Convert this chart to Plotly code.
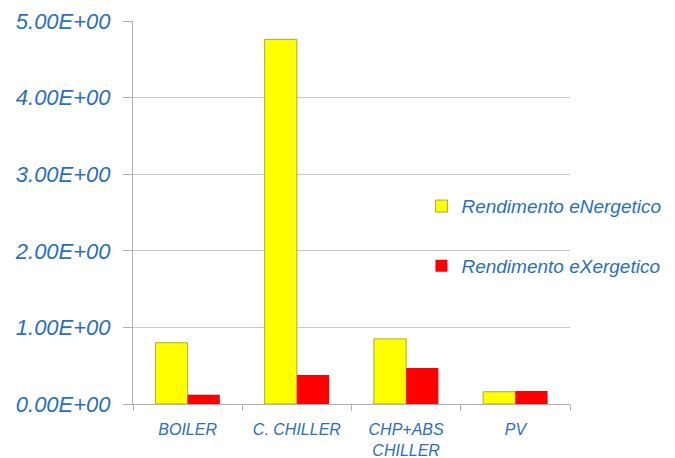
import plotly.graph_objects as go

categories = ["BOILER", "C. CHILLER", "CHP+ABS<br>CHILLER", "PV"]
energetico = [0.80, 4.76, 0.85, 0.16]
exergetico = [0.12, 0.38, 0.47, 0.17]
ytick_vals = [0, 1, 2, 3, 4, 5]
ytick_text = ["0.00E+00", "1.00E+00", "2.00E+00", "3.00E+00", "4.00E+00", "5.00E+00"]

blue = "#2b6fb8"
fnt = "Liberation Sans, Arial, sans-serif"

fig = go.Figure()
fig.add_trace(go.Bar(x=categories, y=energetico, name="<i>Rendimento eNergetico</i>",
                     marker=dict(color="#ffff00", line=dict(color="#a9a93a", width=1)),
                     legendgroup="a"))
fig.add_trace(go.Bar(x=categories, y=exergetico, name="<i>Rendimento eXergetico</i>",
                     marker=dict(color="#ff0000", line=dict(color="#ff0000", width=0)),
                     legendgroup="b"))

fig.update_layout(
    width=667, height=450,
    margin=dict(l=125, r=105, t=13, b=54, autoexpand=False),
    paper_bgcolor="white", plot_bgcolor="white",
    barmode="group", bargap=0.41, bargroupgap=0,
    font=dict(family=fnt, color=blue),
    showlegend=True,
    legend=dict(x=0.66, y=0.566, xanchor="left", yanchor="top",
                bgcolor="rgba(0,0,0,0)", tracegroupgap=32,
                font=dict(size=19, color=blue, family=fnt),
                itemwidth=30),
    xaxis=dict(showline=True, linecolor="#b0b0b0", linewidth=1,
               ticks="outside", tickson="boundaries", ticklen=6, tickcolor="#b0b0b0",
               tickfont=dict(size=16, color=blue, family=fnt),
               tickmode="array", tickvals=categories,
               ticktext=["<i>" + c + "</i>" for c in categories],
               showgrid=False, ticklabelstandoff=11),
    yaxis=dict(range=[0, 5], tickmode="array", tickvals=ytick_vals,
               ticktext=["<i>" + t + "</i>" for t in ytick_text],
               tickfont=dict(size=22, color=blue, family=fnt),
               showline=True, linecolor="#b0b0b0", linewidth=1,
               ticks="outside", ticklen=9, tickcolor="#b0b0b0",
               showgrid=True, gridcolor="#c8c8c8", gridwidth=1,
               zeroline=False, ticklabelstandoff=8),
)

fig.write_html("out.html")
